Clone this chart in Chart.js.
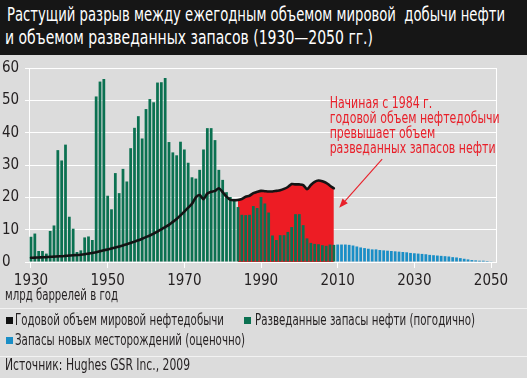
<!DOCTYPE html>
<html><head><meta charset="utf-8">
<script src="https://cdn.jsdelivr.net/npm/chart.js@4.4.1/dist/chart.umd.min.js"></script>
<style>
html,body{margin:0;padding:0;}
body{width:527px;height:378px;background:#dcdcdc;position:relative;overflow:hidden;font-family:'Liberation Sans Narrow','DejaVu Sans Condensed','Arial Narrow',sans-serif;color:#231f20;}
#hdr{position:absolute;left:0;top:0;width:527px;height:55px;background:#161616;}
.t{position:absolute;white-space:nowrap;transform-origin:0 50%;line-height:1;}
.tl{color:#fff;font-size:19px;}
.lg{font-size:15px;}
.sq{position:absolute;width:7px;height:7px;}
.sep{position:absolute;left:0;width:527px;height:1px;background:#f2f2f2;}
#cw{position:absolute;left:0;top:55px;width:527px;height:250px;}
</style></head>
<body>
<div id="hdr"></div>
<div class="t tl" data-w="498" style="left:7px;top:5px;">Растущий разрыв между ежегодным объемом мировой&nbsp; добычи нефти</div>
<div class="t tl" data-w="368" style="left:5px;top:28px;">и объемом разведанных запасов (1930—2050 гг.)</div>
<div id="cw"><canvas id="c" width="527" height="250"></canvas></div>
<div class="t lg" data-w="113" style="left:5px;top:288px;">млрд баррелей в год</div>
<div class="sep" style="top:308px;"></div>
<div class="sq" style="left:6px;top:317px;background:#111;"></div>
<div class="t lg" data-w="209" style="left:15px;top:313px;">Годовой объем мировой нефтедобычи</div>
<div class="sq" style="left:244px;top:317px;background:#0b7151;"></div>
<div class="t lg" data-w="220" style="left:255px;top:313px;">Разведанные запасы нефти (погодично)</div>
<div class="sq" style="left:6px;top:337px;background:#1a8ec6;"></div>
<div class="t lg" data-w="230" style="left:15px;top:333px;">Запасы новых месторождений (оценочно)</div>
<div class="sep" style="top:356px;"></div>
<div class="t lg" data-w="185" style="left:5px;top:358px;">Источник: Hughes GSR Inc., 2009</div>
<script>
// ---- data ----
const reserveStart = 1930;
const reserves = [7.8,8.8,3.4,3.4,2.6,9.6,11.3,34.6,31.4,36.3,
  14.0,10.3,3.1,3.6,7.6,7.9,6.8,51.2,55.8,56.6,
  20.5,16.3,27.5,21.3,28.8,24.9,35.2,41.5,45.1,38.2,
  47.3,50.4,49.4,55.5,55.6,56.9,37.1,33.9,33.0,37.2,
  34.8,30.7,26.2,25.8,28.5,34.8,41.4,41.4,37.7,28.5,
  25.4,21.6,20.1,18.9,17.0,14.6,14.5,14.6,17.3,16.7,
  20.1,18.1,15.3,8.2,6.8,8.3,8.3,9.3,10.8,14.8,
  14.8,11.4,7.3,5.9,5.6,5.5,5.2,5.0,5.4,5.3];
const newFieldsStart = 2010;
const newFields = [5.4,5.4,5.4,5.3,5.1,4.8,4.5,4.3,4.1,3.9,
  3.9,3.7,3.6,3.5,3.4,3.3,3.2,3.1,3.0,2.8,
  2.7,2.6,2.5,2.4,2.2,2.1,2.0,1.9,1.8,1.7,
  1.5,1.4,1.2,1.0,0.8,0.6,0.5,0.4,0.4,0.3,0.2];
const productionStart = 1930;
const production = [1.3,1.35,1.4,1.45,1.5,1.6,1.65,1.75,1.8,1.9,
  2.0,2.1,2.15,2.25,2.4,2.6,2.8,3.0,3.3,3.6,
  3.9,4.2,4.5,4.8,5.1,5.5,5.9,6.3,6.7,7.2,
  7.7,8.2,8.8,9.4,10.1,10.8,11.5,12.4,13.3,14.4,
  15.6,16.8,18.0,20.0,20.7,19.4,21.2,21.7,22.0,22.8,
  21.6,20.2,19.2,19.1,19.2,19.5,20.2,20.5,21.3,21.7,
  22.0,21.9,21.8,21.8,22.0,22.2,22.6,23.2,24.1,24.0,
  24.0,23.8,22.5,23.8,24.8,25.2,25.0,24.5,23.6,22.8];
const gapStartYear = 1984;
const tickYears = [1930,1950,1970,1990,2010,2030,2050];
const yTicks = [0,10,20,30,40,50,60];
const annotationLines = ['Начиная с 1984 г.','годовой объем нефтедобычи','превышает объем','разведанных запасов нефти'];

const pts = (arr, start) => arr.map((v,i)=>({x:start+i, y:v}));
const resPts = pts(reserves, reserveStart);
const newPts = pts(newFields, newFieldsStart);
const prodPts = pts(production, productionStart);
const gapPts = prodPts.filter(p=>p.x>=gapStartYear);

const FONT = "'Liberation Sans Narrow','DejaVu Sans Condensed','Arial Narrow',sans-serif";
const TXT = '#231f20';

// fit html text widths
document.querySelectorAll('[data-w]').forEach(el=>{
  const w = el.getBoundingClientRect().width;
  const tw = +el.dataset.w;
  el.style.transform = 'scaleX(' + (tw/w) + ')';
});

const annot = {
  id:'annot',
  afterDraw(chart){
    const {ctx, scales:{x,y}} = chart;
    ctx.save();
    ctx.fillStyle = '#e8202a';
    ctx.strokeStyle = '#e8202a';
    ctx.font = '15px ' + FONT;
    ctx.textBaseline = 'middle';
    const sx = 166 / ctx.measureText(annotationLines[3]).width;
    const x0 = x.getPixelForValue(2007.9);
    const y0 = y.getPixelForValue(48.7);
    annotationLines.forEach((t,i)=>{
      ctx.save();
      ctx.translate(x0, y0 + i*15);
      ctx.scale(sx,1);
      ctx.fillText(t,0,0);
      ctx.restore();
    });
    // arrow
    const ax1 = x.getPixelForValue(2021.6), ay1 = y.getPixelForValue(31.8);
    const ax2 = x.getPixelForValue(2010.4), ay2 = y.getPixelForValue(16.8);
    const ang = Math.atan2(ay2-ay1, ax2-ax1);
    const hl = 9, hw = 3.5;
    const bx = ax2 - hl*Math.cos(ang), by = ay2 - hl*Math.sin(ang);
    ctx.lineWidth = 1.1;
    ctx.beginPath(); ctx.moveTo(ax1,ay1); ctx.lineTo(bx,by); ctx.stroke();
    ctx.beginPath();
    ctx.moveTo(ax2,ay2);
    ctx.lineTo(bx + hw*Math.sin(ang), by - hw*Math.cos(ang));
    ctx.lineTo(bx - hw*Math.sin(ang), by + hw*Math.cos(ang));
    ctx.closePath(); ctx.fill();
    ctx.restore();
  }
};

new Chart(document.getElementById('c'), {
  type:'bar',
  data:{datasets:[
    {type:'line', data:prodPts, borderColor:'#141414', borderWidth:2.6, pointRadius:0, fill:false, tension:0.25, order:0, borderCapStyle:'round', borderJoinStyle:'round'},
    {type:'bar', data:resPts, backgroundColor:'#0b7151', grouped:false, barPercentage:0.72, categoryPercentage:1, order:1},
    {type:'bar', data:newPts, backgroundColor:'#1a8ec6', grouped:false, barPercentage:0.72, categoryPercentage:1, order:1},
    {type:'line', data:gapPts, backgroundColor:'#ed1c24', borderWidth:0, pointRadius:0, fill:'origin', tension:0.25, order:2}
  ]},
  options:{
    responsive:false, animation:false, devicePixelRatio:1,
    layout:{padding:{left:2,right:31,top:11,bottom:0}},
    plugins:{legend:{display:false}, tooltip:{enabled:false}},
    scales:{
      x:{type:'linear', min:1929.48, max:2051.3, offset:false,
        afterBuildTicks:s=>{s.ticks = tickYears.map(v=>({value:v}));},
        grid:{drawOnChartArea:false, color:'#ffffff', tickLength:6, offset:false},
        border:{display:false},
        ticks:{font:{family:FONT,size:15}, color:TXT, padding:4, maxRotation:0, autoSkip:false, callback:v=>String(v)},
        afterFit:s=>{s.height=43;}
      },
      y:{min:0, max:60, afterBuildTicks:s=>{s.ticks = yTicks.map(v=>({value:v}));},
        ticks:{font:{family:FONT,size:15}, color:TXT, crossAlign:'far', padding:4},
        grid:{color:'#ffffff', tickLength:4, lineWidth:1},
        border:{color:'#ffffff', width:1},
        afterFit:s=>{s.width=27;}
      },
      y2:{position:'right', min:0, max:60, ticks:{display:false}, grid:{display:false, drawTicks:false},
        border:{color:'#ffffff', width:1}, afterFit:s=>{s.width=0;}}
    }
  },
  plugins:[annot]
});
</script>
</body></html>
